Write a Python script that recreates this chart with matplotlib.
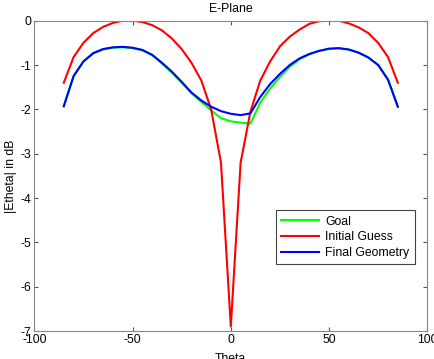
import matplotlib
matplotlib.use("Agg")
import matplotlib.pyplot as plt
import numpy as np

plt.rcParams['font.family'] = ['Liberation Sans', 'DejaVu Sans']
plt.rcParams['axes.unicode_minus'] = False

theta = list(range(-85, 90, 5))

goal = [-1.93, -1.25, -0.92, -0.74, -0.65, -0.61, -0.60, -0.62, -0.67, -0.78,
        -0.97, -1.17, -1.40, -1.64, -1.83, -2.02, -2.20, -2.27, -2.30, -2.32,
        -1.85, -1.53, -1.27, -1.04, -0.87, -0.76, -0.68, -0.64, -0.62, -0.65,
        -0.72, -0.83, -1.00, -1.33, -1.94]
initial = [-1.40, -0.82, -0.50, -0.28, -0.14, -0.05, 0.0, 0.0, -0.03, -0.10,
           -0.22, -0.40, -0.64, -0.95, -1.35, -2.00, -3.20, -6.90, -3.20, -2.05,
           -1.35, -0.92, -0.58, -0.36, -0.20, -0.07, -0.01, 0.0, 0.0, -0.06,
           -0.15, -0.28, -0.50, -0.82, -1.40]
final = [-1.93, -1.25, -0.92, -0.73, -0.64, -0.60, -0.59, -0.61, -0.66, -0.77,
         -0.95, -1.15, -1.38, -1.62, -1.80, -1.94, -2.04, -2.10, -2.13, -2.09,
         -1.72, -1.43, -1.20, -1.00, -0.85, -0.75, -0.68, -0.63, -0.62, -0.65,
         -0.72, -0.83, -1.00, -1.33, -1.94]

xticks = [-100, -50, 0, 50, 100]
yticks = [0, -1, -2, -3, -4, -5, -6, -7]

FS = 8.8
fig = plt.figure(figsize=(4.34, 3.59), dpi=100)
ax = fig.add_axes([34.3/434, 1 - 331/359, (427.3-34.3)/434, (331-20.7)/359])

ax.plot(theta, goal, color='#00ff00', lw=1.5, label='Goal')
ax.plot(theta, initial, color='#ff0000', lw=1.5, label='Initial Guess')
ax.plot(theta, final, color='#0000ff', lw=1.5, label='Final Geometry')

ax.set_xlim(-100, 100)
ax.set_ylim(-7, 0)
ax.set_xticks(xticks)
ax.set_yticks(yticks)
ax.tick_params(direction='in', top=True, right=True, labelsize=FS, length=3,
               color='#555555', pad=2)
for s in ax.spines.values():
    s.set_color('#888888')
    s.set_linewidth(0.8)

ax.set_title('E-Plane', fontsize=FS, pad=6)
ax.set_xlabel('Theta', fontsize=FS, labelpad=5)
ax.set_ylabel('|Etheta| in dB', fontsize=FS, labelpad=3)

leg = ax.legend(loc='lower right', bbox_to_anchor=(0.983, 0.195), fontsize=FS,
                fancybox=False, framealpha=1, edgecolor='#444444',
                handlelength=3.1, borderpad=0.45, labelspacing=0.3,
                handletextpad=0.45)
leg.get_frame().set_linewidth(0.8)

fig.savefig('out.png', dpi=100)
